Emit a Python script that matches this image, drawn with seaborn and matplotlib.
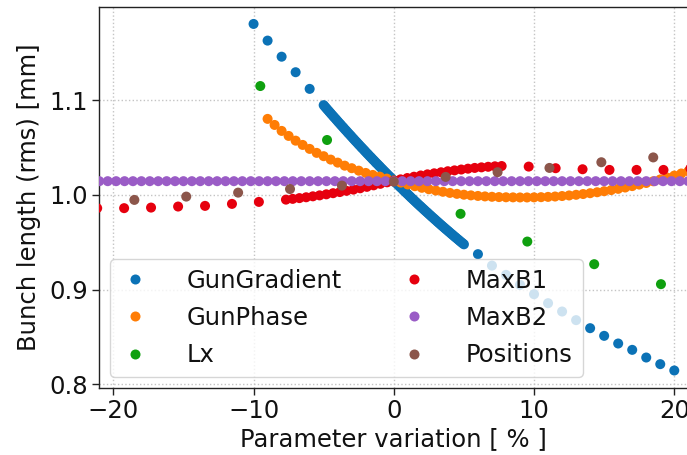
import matplotlib
matplotlib.use("Agg")
import matplotlib.pyplot as plt
import seaborn as sns
import pandas as pd

# ---------------- data ----------------
series_names = ["GunGradient", "GunPhase", "Lx", "MaxB1", "MaxB2", "Positions"]
series_colors = ["#0b72b6", "#ff7d05", "#0fa00f", "#e6000e", "#9a5cc6", "#8c564b"]

gungradient_x = [-10, -9, -8, -7, -6,
                 -5.0, -4.9, -4.8, -4.7, -4.6, -4.5, -4.4, -4.3, -4.2, -4.1,
                 -4.0, -3.9, -3.8, -3.7, -3.6, -3.5, -3.4, -3.3, -3.2, -3.1,
                 -3.0, -2.9, -2.8, -2.7, -2.6, -2.5, -2.4, -2.3, -2.2, -2.1,
                 -2.0, -1.9, -1.8, -1.7, -1.6, -1.5, -1.4, -1.3, -1.2, -1.1,
                 -1.0, -0.9, -0.8, -0.7, -0.6, -0.5, -0.4, -0.3, -0.2, -0.1,
                 0.0, 0.1, 0.2, 0.3, 0.4, 0.5, 0.6, 0.7, 0.8, 0.9,
                 1.0, 1.1, 1.2, 1.3, 1.4, 1.5, 1.6, 1.7, 1.8, 1.9,
                 2.0, 2.1, 2.2, 2.3, 2.4, 2.5, 2.6, 2.7, 2.8, 2.9,
                 3.0, 3.1, 3.2, 3.3, 3.4, 3.5, 3.6, 3.7, 3.8, 3.9,
                 4.0, 4.1, 4.2, 4.3, 4.4, 4.5, 4.6, 4.7, 4.8, 4.9, 5.0,
                 6, 7, 8, 9, 10, 11, 12, 13, 14, 15, 16, 17, 18, 19, 20]
gungradient_y = [1.1806, 1.1630, 1.1460, 1.1296, 1.1120,
                 1.0948, 1.0930, 1.0913, 1.0896, 1.0879, 1.0862, 1.0845, 1.0828, 1.0812, 1.0795,
                 1.0778, 1.0761, 1.0745, 1.0728, 1.0712, 1.0695, 1.0679, 1.0662, 1.0646, 1.0630,
                 1.0614, 1.0597, 1.0581, 1.0565, 1.0549, 1.0533, 1.0517, 1.0501, 1.0486, 1.0470,
                 1.0454, 1.0438, 1.0423, 1.0407, 1.0392, 1.0376, 1.0361, 1.0345, 1.0330, 1.0315,
                 1.0300, 1.0284, 1.0269, 1.0254, 1.0239, 1.0224, 1.0209, 1.0194, 1.0180, 1.0165,
                 1.0150, 1.0135, 1.0121, 1.0106, 1.0092, 1.0077, 1.0063, 1.0048, 1.0034, 1.0020,
                 1.0006, 0.9991, 0.9977, 0.9963, 0.9949, 0.9935, 0.9921, 0.9907, 0.9893, 0.9880,
                 0.9866, 0.9852, 0.9839, 0.9825, 0.9812, 0.9798, 0.9785, 0.9771, 0.9758, 0.9745,
                 0.9732, 0.9718, 0.9705, 0.9692, 0.9679, 0.9666, 0.9653, 0.9640, 0.9628, 0.9615,
                 0.9602, 0.9589, 0.9577, 0.9564, 0.9552, 0.9539, 0.9527, 0.9514, 0.9502, 0.9490, 0.9478,
                 0.9374, 0.9253, 0.9155, 0.9050, 0.8951, 0.8856, 0.8768, 0.8677, 0.8592, 0.8511,
                 0.8430, 0.8363, 0.8282, 0.8212, 0.8145]

gunphase_x = [-9.0, -8.5, -8.0, -7.5, -7.0, -6.5, -6.0, -5.5, -5.0, -4.5, -4.0, -3.5,
              -3.0, -2.5, -2.0, -1.5, -1.0, -0.5, 0.0, 0.5, 1.0, 1.5, 2.0, 2.5, 3.0,
              3.5, 4.0, 4.5, 5.0, 5.5, 6.0, 6.5, 7.0, 7.5, 8.0, 8.5, 9.0, 9.5, 10.0,
              10.5, 11.0, 11.5, 12.0, 12.5, 13.0, 13.5, 14.0, 14.5, 15.0, 15.5, 16.0,
              16.5, 17.0, 17.5, 18.0, 18.5, 19.0, 19.5, 20.0, 20.5, 21.0]
gunphase_y = [1.0803, 1.0739, 1.0676, 1.0623, 1.0573, 1.0528, 1.0486, 1.0444, 1.0409,
              1.0373, 1.0341, 1.0309, 1.0282, 1.0256, 1.0232, 1.0211, 1.0193, 1.0172,
              1.0152, 1.0130, 1.0110, 1.0092, 1.0075, 1.0060, 1.0046, 1.0033, 1.0021,
              1.0011, 1.0002, 0.9995, 0.9989, 0.9984, 0.9980, 0.9977, 0.9975, 0.9974,
              0.9973, 0.9973, 0.9974, 0.9976, 0.9979, 0.9983, 0.9988, 0.9994, 1.0001,
              1.0009, 1.0018, 1.0028, 1.0039, 1.0051, 1.0064, 1.0078, 1.0093, 1.0109,
              1.0126, 1.0144, 1.0163, 1.0183, 1.0204, 1.0226, 1.0249]

lx_x = [-9.52, -4.76, 0.0, 4.76, 9.52, 14.29, 19.05]
lx_y = [1.1150, 1.0580, 1.0150, 0.9800, 0.9507, 0.9268, 0.9057]

maxb1_x = [-21.15, -19.23, -17.31, -15.38, -13.46, -11.54, -9.62,
           -7.69, -7.21, -6.73, -6.25, -5.77, -5.29, -4.81, -4.33, -3.85, -3.37, -2.88,
           -2.40, -1.92, -1.44, -0.96, -0.48, 0.0, 0.48, 0.96, 1.44, 1.92, 2.40, 2.88,
           3.37, 3.85, 4.33, 4.81, 5.29, 5.77, 6.25, 6.73, 7.21, 7.69,
           9.62, 11.54, 13.46, 15.38, 17.31, 19.23, 21.15]
maxb1_y = [0.9860, 0.9860, 0.9866, 0.9877, 0.9884, 0.9905, 0.9926,
           0.9950, 0.9958, 0.9966, 0.9975, 0.9985, 0.9995, 1.0006, 1.0018, 1.0030, 1.0043,
           1.0056, 1.0070, 1.0085, 1.0101, 1.0117, 1.0133, 1.0150, 1.0164, 1.0178, 1.0192,
           1.0205, 1.0217, 1.0228, 1.0239, 1.0250, 1.0259, 1.0268, 1.0277, 1.0285, 1.0291,
           1.0297, 1.0302, 1.0305,
           1.0299, 1.0282, 1.0271, 1.0264, 1.0264, 1.0264, 1.0280]

maxb2_x = [-21.0, -20.4, -19.8, -19.2, -18.6, -18.0, -17.4, -16.8, -16.2, -15.6, -15.0,
           -14.4, -13.8, -13.2, -12.6, -12.0, -11.4, -10.8, -10.2, -9.6, -9.0, -8.4,
           -7.8, -7.2, -6.6, -6.0, -5.4, -4.8, -4.2, -3.6, -3.0, -2.4, -1.8, -1.2,
           -0.6, 0.0, 0.6, 1.2, 1.8, 2.4, 3.0, 3.6, 4.2, 4.8, 5.4, 6.0, 6.6, 7.2,
           7.8, 8.4, 9.0, 9.6, 10.2, 10.8, 11.4, 12.0, 12.6, 13.2, 13.8, 14.4, 15.0,
           15.6, 16.2, 16.8, 17.4, 18.0, 18.6, 19.2, 19.8, 20.4, 21.0]
maxb2_y = [1.0145, 1.0145, 1.0145, 1.0145, 1.0145, 1.0145, 1.0145, 1.0145, 1.0145, 1.0145,
           1.0145, 1.0145, 1.0145, 1.0145, 1.0145, 1.0145, 1.0145, 1.0145, 1.0145, 1.0145,
           1.0145, 1.0145, 1.0145, 1.0145, 1.0145, 1.0145, 1.0145, 1.0145, 1.0145, 1.0145,
           1.0145, 1.0145, 1.0145, 1.0145, 1.0145, 1.0145, 1.0145, 1.0145, 1.0145, 1.0145,
           1.0145, 1.0145, 1.0145, 1.0145, 1.0145, 1.0145, 1.0145, 1.0145, 1.0145, 1.0145,
           1.0145, 1.0145, 1.0145, 1.0145, 1.0145, 1.0145, 1.0145, 1.0145, 1.0145, 1.0145,
           1.0145, 1.0145, 1.0145, 1.0145, 1.0145, 1.0145, 1.0145, 1.0145, 1.0145, 1.0145,
           1.0145]

positions_x = [-18.5, -14.8, -11.1, -7.4, -3.7, 0.0, 3.7, 7.4, 11.1, 14.8, 18.5]
positions_y = [0.9947, 0.9982, 1.0024, 1.0062, 1.0098, 1.0140, 1.0190, 1.0240, 1.0285,
               1.0345, 1.0396]

x_ticks = [-20, -10, 0, 10, 20]
x_ticklabels = ["\u221220", "\u221210", "0", "10", "20"]
y_ticks = [0.8, 0.9, 1.0, 1.1]
y_ticklabels = ["0.8", "0.9", "1.0", "1.1"]

# ---------------- build long table ----------------
xs = [gungradient_x, gunphase_x, lx_x, maxb1_x, maxb2_x, positions_x]
ys = [gungradient_y, gunphase_y, lx_y, maxb1_y, maxb2_y, positions_y]
frames = []
for name, xv, yv in zip(series_names, xs, ys):
    frames.append(pd.DataFrame({"variation": xv, "length": yv, "series": name}))
df = pd.concat(frames, ignore_index=True)

# ---------------- plot ----------------
sns.set_style("ticks")
plt.rcParams["font.family"] = ["DejaVu Sans"]
plt.rcParams["text.color"] = "#111111"
plt.rcParams["axes.labelcolor"] = "#111111"
plt.rcParams["xtick.color"] = "#111111"
plt.rcParams["ytick.color"] = "#111111"
FS = 17.5

fig = plt.figure(figsize=(6.87, 4.55), dpi=100)
ax = fig.add_axes([99.3 / 687, 67 / 455, 589 / 687, 381 / 455])

sns.scatterplot(data=df, x="variation", y="length", hue="series",
                hue_order=series_names, palette=series_colors,
                s=52, linewidth=0, ax=ax, legend=True, zorder=3)

ax.set_xlim(-21, 21)
ax.set_ylim(0.796, 1.1985)
ax.set_xticks(x_ticks)
ax.set_yticks(y_ticks)
ax.set_xticklabels(x_ticklabels)
ax.set_yticklabels(y_ticklabels)
ax.tick_params(labelsize=FS, length=5, width=1, color="#222222", pad=3)
ax.grid(True, linestyle=":", color="#c4c4c4", linewidth=1.0, zorder=0)
ax.set_axisbelow(True)
for sp in ax.spines.values():
    sp.set_visible(True)
    sp.set_color("#222222")
    sp.set_linewidth(1.0)

ax.set_xlabel("Parameter variation [ % ]", fontsize=FS, labelpad=3)
ax.set_ylabel("Bunch length (rms) [mm]", fontsize=FS, labelpad=6)

handles, labels = ax.get_legend_handles_labels()
ax.legend(handles, labels, ncol=2, loc="lower left", fontsize=FS,
          handlelength=1.25, handletextpad=1.5, columnspacing=2.35,
          labelspacing=0.55, framealpha=0.8, markerscale=1.0,
          borderaxespad=0.45)

fig.savefig("out.png", dpi=100)
